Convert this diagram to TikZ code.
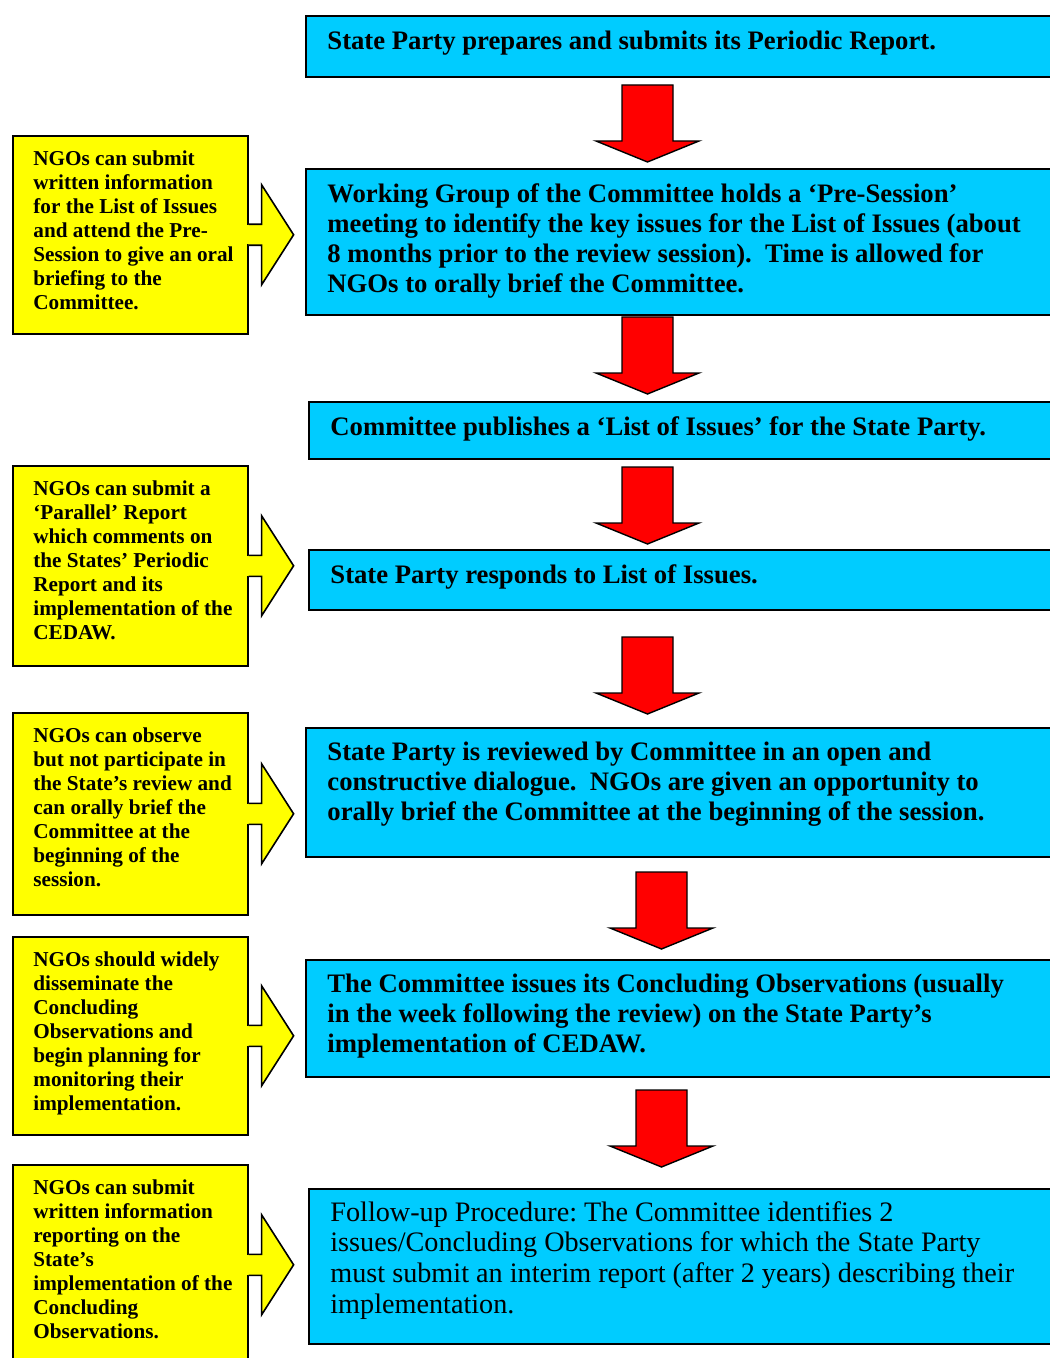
\documentclass[tikz,border=0pt]{standalone}
\usepackage{fontspec}
\setmainfont{Liberation Serif}
\usetikzlibrary{positioning}
\definecolor{boxblue}{RGB}{0,204,255}
\definecolor{ngoyellow}{RGB}{255,255,0}
\definecolor{flowred}{RGB}{255,0,0}
\frenchspacing
\tikzset{
    stage/.style={rectangle, draw, line width=1pt, fill=boxblue, anchor=north west, minimum width=380pt},
    stagetext/.style={inner sep=0pt, align=left, font=\fontsize{13.35}{15}\selectfont\bfseries},
    ngo/.style={rectangle, draw, line width=0.8pt, fill=ngoyellow, anchor=north west, minimum width=117.5pt},
    ngotext/.style={inner sep=0pt, align=left, font=\fontsize{10.6}{12}\selectfont\bfseries},
    downarrow/.pic={\draw[fill=flowred, line width=0.7pt, line join=miter] (-25.5,0) -- (25.5,0) -- (25.5,56) -- (51.5,56) -- (0,77) -- (-51.5,56) -- (-25.5,56) -- cycle;},
    sidearrow/.pic={
        \fill[ngoyellow] (-1.5,-9.7) rectangle (2,9.7);
        \draw[fill=ngoyellow, line width=0.8pt, line join=miter] (0,-10.5) -- (13,-10.5) -- (13,-50) -- (45,0) -- (13,50) -- (13,10.5) -- (0,10.5);}
}

\begin{document}
\begin{tikzpicture}[x=0.5pt, y=-0.5pt]
    \useasboundingbox (0,0) rectangle (1049,1358);

    % committee stages
    \node[stage, minimum height=30.5pt] (report) at (305,15) {};
    \node[stage, minimum height=73pt] (presession) at (305,168) {};
    \node[stage, minimum height=28.5pt] (issues) at (308,401) {};
    \node[stage, minimum height=30pt] (reply) at (308,549) {};
    \node[stage, minimum height=64.5pt] (review) at (305,727) {};
    \node[stage, minimum height=58.5pt] (concl) at (305,959) {};
    \node[stage, minimum height=77.5pt] (followup) at (308,1188) {};

    \node[stagetext, below right=7.8pt and 11pt of report.north west] (reporttext) {State Party prepares and submits its Periodic Report.};
    \node[stagetext, below right=7.5pt and 11pt of presession.north west] (presessiontext) {Working Group of the Committee holds a ‘Pre-Session’\\ meeting to identify the key issues for the List of Issues (about\\ 8 months prior to the review session).\ \ Time is allowed for\\ NGOs to orally brief the Committee.};
    \node[stagetext, below right=7.5pt and 11pt of issues.north west] (issuestext) {Committee publishes a ‘List of Issues’ for the State Party.};
    \node[stagetext, below right=7.5pt and 11pt of reply.north west] (replytext) {State Party responds to List of Issues.};
    \node[stagetext, below right=7.5pt and 11pt of review.north west] (reviewtext) {State Party is reviewed by Committee in an open and\\ constructive dialogue.\ \ NGOs are given an opportunity to\\ orally brief the Committee at the beginning of the session.};
    \node[stagetext, below right=7.5pt and 11pt of concl.north west] (concltext) {The Committee issues its Concluding Observations (usually\\ in the week following the review) on the State Party’s\\ implementation of CEDAW.};
    \node[stagetext, below right=6.5pt and 11pt of followup.north west, font=\fontsize{14.1}{15.3}\selectfont] (followuptext) {Follow-up Procedure: The Committee identifies 2\\ issues/Concluding Observations for which the State Party\\ must submit an interim report (after 2 years) describing their\\ implementation.};

    % arrows between stages
    \pic at (647.5,85) {downarrow};
    \pic at (647.5,317) {downarrow};
    \pic at (647.5,467) {downarrow};
    \pic at (647.5,637) {downarrow};
    \pic at (661.5,872) {downarrow};
    \pic at (661.5,1090) {downarrow};

    % NGO boxes
    \node[ngo, minimum height=99pt] (ngo1) at (12,135) {};
    \node[ngo, minimum height=100pt] (ngo2) at (12,465) {};
    \node[ngo, minimum height=101pt] (ngo3) at (12,712) {};
    \node[ngo, minimum height=99pt] (ngo4) at (12,936) {};
    \node[ngo, minimum height=100pt] (ngo5) at (12,1164) {};

    \foreach \n in {ngo1,ngo2,ngo3,ngo4,ngo5}
        \pic at (\n.east) {sidearrow};

    \node[ngotext, below right=7.8pt and 10.5pt of ngo1.north west] (ngo1text) {NGOs can submit\\ written information\\ for the List of Issues\\ and attend the Pre-\\ Session to give an oral\\ briefing to the\\ Committee.};
    \node[ngotext, below right=7.8pt and 10.5pt of ngo2.north west] (ngo2text) {NGOs can submit a\\ ‘Parallel’ Report\\ which comments on\\ the States’ Periodic\\ Report and its\\ implementation of the\\ CEDAW.};
    \node[ngotext, below right=7.8pt and 10.5pt of ngo3.north west] (ngo3text) {NGOs can observe\\ but not participate in\\ the State’s review and\\ can orally brief the\\ Committee at the\\ beginning of the\\ session.};
    \node[ngotext, below right=7.8pt and 10.5pt of ngo4.north west] (ngo4text) {NGOs should widely\\ disseminate the\\ Concluding\\ Observations and\\ begin planning for\\ monitoring their\\ implementation.};
    \node[ngotext, below right=7.8pt and 10.5pt of ngo5.north west] (ngo5text) {NGOs can submit\\ written information\\ reporting on the\\ State’s\\ implementation of the\\ Concluding\\ Observations.};
\end{tikzpicture}
\end{document}
